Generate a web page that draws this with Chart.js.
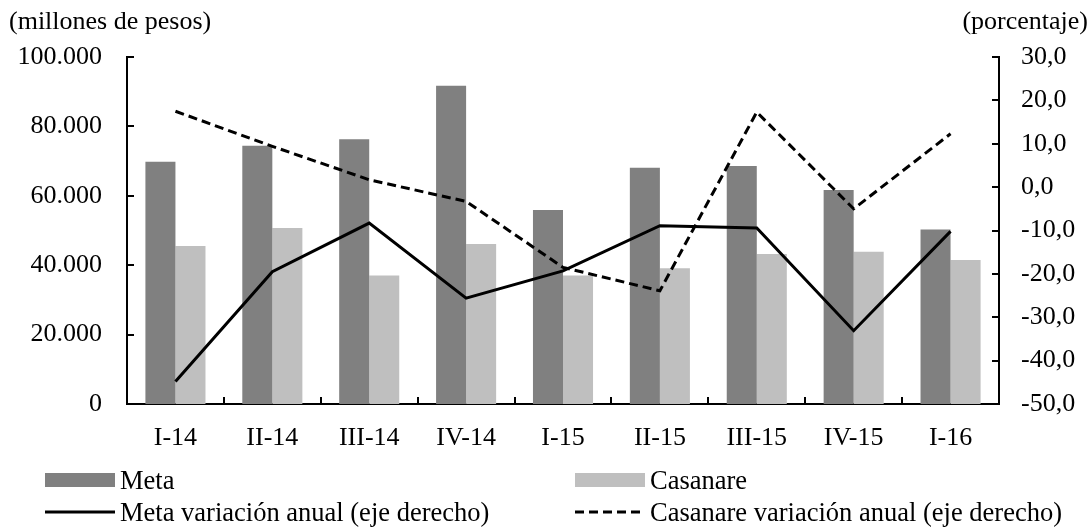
<!DOCTYPE html>
<html>
<head>
<meta charset="utf-8">
<script src="https://cdn.jsdelivr.net/npm/chart.js@4/dist/chart.umd.min.js"></script>
<style>
  html, body { margin: 0; padding: 0; background: #fff; }
  #wrap { position: relative; width: 1091px; height: 529px; font-family: 'Liberation Serif', 'Times New Roman', serif; color: #000; }
  canvas { position: absolute; left: 0; top: 0; }
  .lbl { position: absolute; font-size: 26px; line-height: 26px; white-space: nowrap; }
  .leg { position: absolute; display: flex; align-items: center; font-size: 26.5px; line-height: 28px; white-space: nowrap; }
  .sw { width: 70px; height: 14px; margin-right: 5px; }
  .ln { width: 70px; height: 4px; margin-right: 5px; display: block; }
</style>
</head>
<body>
<div id="wrap">
  <canvas id="c" width="1091" height="529"></canvas>
  <div class="lbl" style="left:9px; top:8px;">(millones de pesos)</div>
  <div class="lbl" style="right:3px; top:8px;">(porcentaje)</div>
  <div class="leg" style="left:45px; top:466px;"><div class="sw" style="background:#808080"></div>Meta</div>
  <div class="leg" style="left:575px; top:466px;"><div class="sw" style="background:#bfbfbf"></div>Casanare</div>
  <div class="leg" style="left:45px; top:498px;"><svg class="ln" width="70" height="4"><line x1="0" y1="2" x2="70" y2="2" stroke="#000" stroke-width="3"/></svg>Meta variación anual (eje derecho)</div>
  <div class="leg" style="left:575px; top:498px;"><svg class="ln" width="70" height="4"><line x1="0" y1="2" x2="70" y2="2" stroke="#000" stroke-width="3" stroke-dasharray="9 5"/></svg>Casanare variación anual (eje derecho)</div>
</div>
<script>
const categories = ['I-14','II-14','III-14','IV-14','I-15','II-15','III-15','IV-15','I-16'];
const metaValues = [69800, 74400, 76300, 91700, 55900, 68100, 68600, 61700, 50300];
const casanareValues = [45500, 50700, 37000, 46100, 37000, 39100, 43200, 43900, 41500];
const metaVariation = [-44.8, -19.5, -8.3, -25.6, -19.3, -8.9, -9.4, -33.1, -10.2];
const casanareVariation = [17.5, 9.4, 1.7, -3.3, -18.5, -23.9, 17.3, -5.0, 12.3];
const leftTickLabels = ['0','20.000','40.000','60.000','80.000','100.000'];
const rightTickLabels = ['-50,0','-40,0','-30,0','-20,0','-10,0','0,0','10,0','20,0','30,0'];

const FONT = { family: "'Liberation Serif', 'Times New Roman', serif", size: 26 };

const inwardTicks = {
  id: 'inwardTicks',
  afterDraw(chart) {
    const ctx = chart.ctx;
    const { left, right, bottom } = chart.chartArea;
    const L = 7;
    ctx.save();
    ctx.strokeStyle = '#000';
    ctx.lineWidth = 2;
    ctx.beginPath();
    const y = chart.scales.y, y1 = chart.scales.y1, x = chart.scales.x;
    y.ticks.forEach((t, i) => { const p = Math.round(y.getPixelForTick(i)); ctx.moveTo(left, p); ctx.lineTo(left + L, p); });
    y1.ticks.forEach((t, i) => { const p = Math.round(y1.getPixelForTick(i)); ctx.moveTo(right, p); ctx.lineTo(right - L, p); });
    for (let i = 0; i < categories.length - 1; i++) {
      const p = Math.round((x.getPixelForValue(i) + x.getPixelForValue(i + 1)) / 2);
      ctx.moveTo(p, bottom); ctx.lineTo(p, bottom - L);
    }
    ctx.stroke();
    ctx.restore();
  }
};

new Chart(document.getElementById('c'), {
  data: {
    labels: categories,
    datasets: [
      { type: 'bar', label: 'Meta', data: metaValues, backgroundColor: '#808080', yAxisID: 'y', order: 2, categoryPercentage: 0.62, barPercentage: 1.0 },
      { type: 'bar', label: 'Casanare', data: casanareValues, backgroundColor: '#bfbfbf', yAxisID: 'y', order: 2, categoryPercentage: 0.62, barPercentage: 1.0 },
      { type: 'line', label: 'Meta variación anual (eje derecho)', data: metaVariation, borderColor: '#000', borderWidth: 3, pointRadius: 0, tension: 0, yAxisID: 'y1', order: 0 },
      { type: 'line', label: 'Casanare variación anual (eje derecho)', data: casanareVariation, borderColor: '#000', borderWidth: 3, borderDash: [9, 5], pointRadius: 0, tension: 0, yAxisID: 'y1', order: 1 }
    ]
  },
  options: {
    responsive: false,
    animation: false,
    events: [],
    layout: { padding: { top: 57, left: 0, right: 0, bottom: 0 } },
    plugins: { legend: { display: false }, tooltip: { enabled: false } },
    scales: {
      x: {
        offset: true,
        grid: { display: false, drawTicks: false },
        border: { display: true, color: '#000', width: 2 },
        ticks: { color: '#000', font: FONT, padding: 19, maxRotation: 0 },
        afterFit(s) { s.height = 125; }
      },
      y: {
        position: 'left',
        min: 0, max: 100000,
        grid: { display: false, drawTicks: false },
        border: { display: true, color: '#000', width: 2 },
        ticks: { stepSize: 20000, color: '#000', font: FONT, padding: 25,
          callback: (v, i) => leftTickLabels[i] },
        afterFit(s) { s.width = 127; }
      },
      y1: {
        position: 'right',
        min: -50, max: 30,
        grid: { display: false, drawTicks: false },
        border: { display: true, color: '#000', width: 2 },
        ticks: { stepSize: 10, color: '#000', font: FONT, padding: 22,
          callback: (v, i) => rightTickLabels[i] },
        afterFit(s) { s.width = 92; }
      }
    }
  },
  plugins: [inwardTicks]
});
</script>
</body>
</html>
